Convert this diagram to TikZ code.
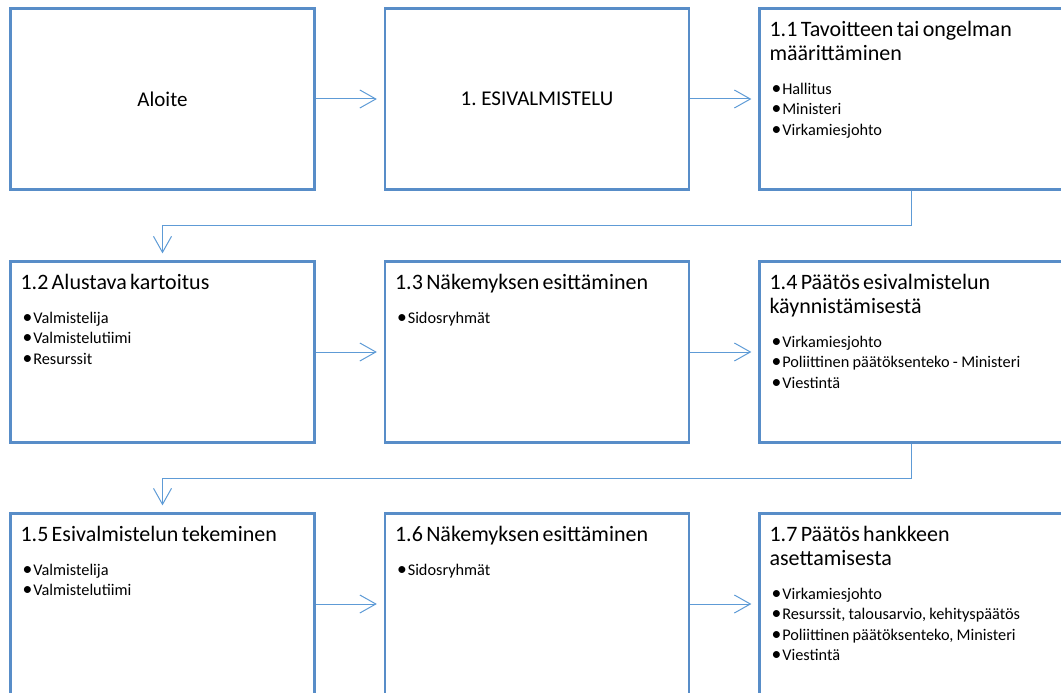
\documentclass[tikz,border=0pt]{standalone}
\usepackage{fontspec}
\setmainfont{Carlito}
\frenchspacing
\usetikzlibrary{arrows.meta,positioning}
\definecolor{boxblue}{RGB}{88,141,200}
\definecolor{lineblue}{RGB}{94,155,214}
\newcommand{\steptitle}[1]{{\fontsize{22}{24}\selectfont #1\par}\vspace{13pt}}
\newcommand{\stepitem}[1]{{\fontsize{16.3}{20.4}\selectfont\hspace*{2pt}\rlap{\scalebox{1.2}{\textbullet}}\hspace{10.7pt}#1\par}}
\tikzset{
  stepbox/.style={draw=boxblue, line width=2.25pt, minimum width=304pt, minimum height=181pt, inner sep=0pt},
  steptext/.style={anchor=base west, inner sep=0pt, text width=288pt, align=left},
  flow/.style={draw=lineblue, line width=1pt, shorten >=7pt, -{Straight Barb[length=16pt, width=18pt]}}
}
\begin{document}
\begin{tikzpicture}[x=1pt, y=1pt]
    \useasboundingbox (0,0) rectangle (1061,-693);
    % first row
    \node[stepbox, font=\fontsize{21}{24}\selectfont] (b0) at (162.5,-99) {Aloite};
    \node[stepbox, font=\fontsize{21}{24}\selectfont] (b1) at (537,-99) {1. ESIVALMISTELU};
    \node[stepbox] (b11) at (911.5,-99) {};
    % second row
    \node[stepbox] (b12) at (162.5,-352) {};
    \node[stepbox] (b13) at (537,-352) {};
    \node[stepbox] (b14) at (911.5,-352) {};
    % third row
    \node[stepbox] (b15) at (162.5,-604) {};
    \node[stepbox] (b16) at (537,-604) {};
    \node[stepbox] (b17) at (911.5,-604) {};
    % box texts
    \node[steptext] (t11) at ([xshift=11pt, yshift=-29.5pt]b11.north west) {%
      \steptitle{1.1 Tavoitteen tai ongelman\\määrittäminen}
      \stepitem{Hallitus}\stepitem{Ministeri}\stepitem{Virkamiesjohto}};
    \node[steptext] (t12) at ([xshift=11pt, yshift=-29.5pt]b12.north west) {%
      \steptitle{1.2 Alustava kartoitus}
      \stepitem{Valmistelija}\stepitem{Valmistelutiimi}\stepitem{Resurssit}};
    \node[steptext] (t13) at ([xshift=11pt, yshift=-29.5pt]b13.north west) {%
      \steptitle{1.3 Näkemyksen esittäminen}
      \stepitem{Sidosryhmät}};
    \node[steptext] (t14) at ([xshift=11pt, yshift=-29.5pt]b14.north west) {%
      \steptitle{1.4 Päätös esivalmistelun\\käynnistämisestä}
      \stepitem{Virkamiesjohto}\stepitem{Poliittinen päätöksenteko - Ministeri}\stepitem{Viestintä}};
    \node[steptext] (t15) at ([xshift=11pt, yshift=-29.5pt]b15.north west) {%
      \steptitle{1.5 Esivalmistelun tekeminen}
      \stepitem{Valmistelija}\stepitem{Valmistelutiimi}};
    \node[steptext] (t16) at ([xshift=11pt, yshift=-29.5pt]b16.north west) {%
      \steptitle{1.6 Näkemyksen esittäminen}
      \stepitem{Sidosryhmät}};
    \node[steptext] (t17) at ([xshift=11pt, yshift=-29.5pt]b17.north west) {%
      \steptitle{1.7 Päätös hankkeen\\asettamisesta}
      \stepitem{Virkamiesjohto}\stepitem{Resurssit, talousarvio, kehityspäätös}%
      \stepitem{Poliittinen päätöksenteko, Ministeri}\stepitem{Viestintä}};
    % connectors
    \draw[flow] (b0) -- (b1);
    \draw[flow] (b1) -- (b11);
    \draw[flow] (b11.south) -- ++(0,-35) -| (b12.north);
    \draw[flow] (b12) -- (b13);
    \draw[flow] (b13) -- (b14);
    \draw[flow] (b14.south) -- ++(0,-34.5) -| (b15.north);
    \draw[flow] (b15) -- (b16);
    \draw[flow] (b16) -- (b17);
\end{tikzpicture}
\end{document}
